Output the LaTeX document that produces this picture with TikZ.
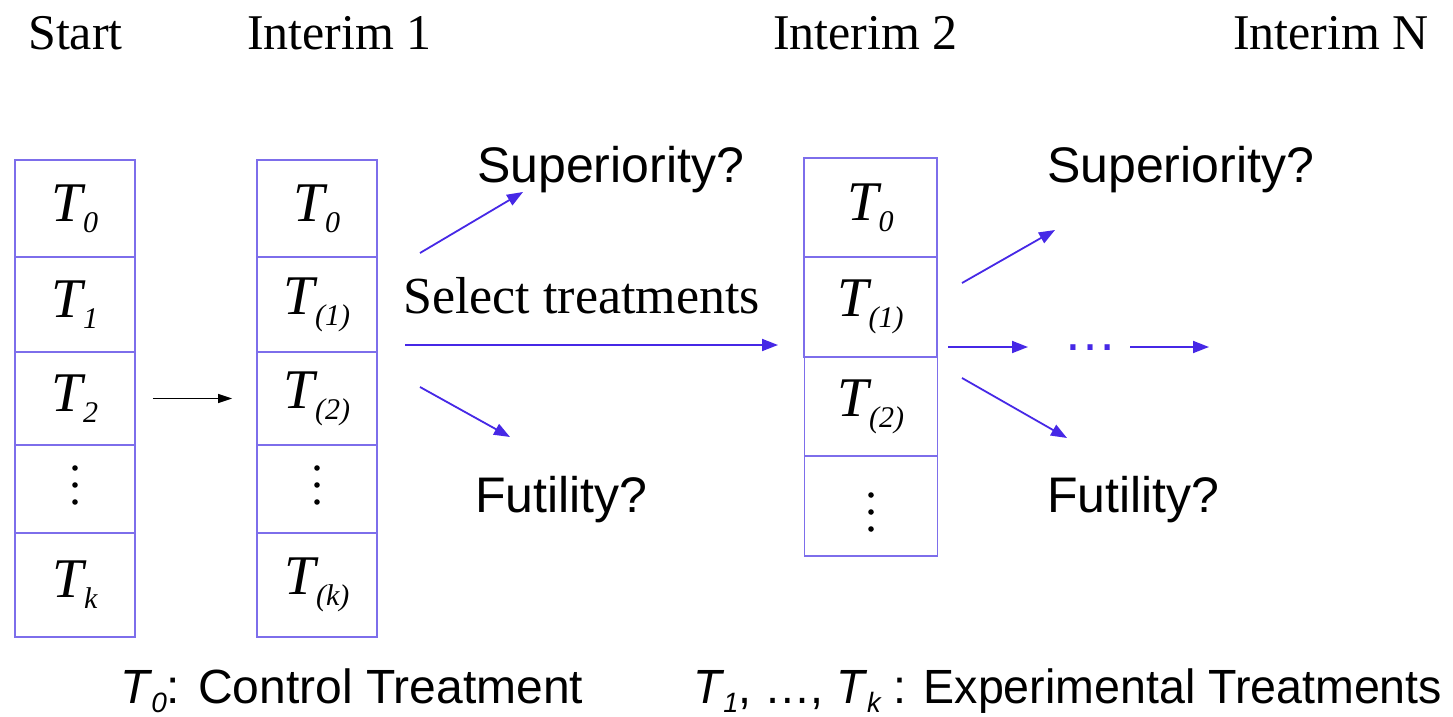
\documentclass[tikz,border=0pt]{standalone}
\usepackage{fontspec}
\setmainfont{Liberation Serif}
\newfontfamily\sansf{Liberation Sans}
\newfontfamily\sanscond[FakeStretch=0.97]{Liberation Sans}
\usetikzlibrary{arrows.meta}
\definecolor{boxblue}{RGB}{125,110,235}
\definecolor{arrblue}{RGB}{70,40,230}
\newcommand{\Tsub}[1]{\textit{T}\kern-3pt\raisebox{-11pt}{\fontsize{30}{30}\selectfont\itshape #1}}
\newcommand{\Tsb}[1]{\textit{T}\kern-1pt\raisebox{-9pt}{\fontsize{28}{28}\selectfont\itshape #1}}
\begin{document}
\begin{tikzpicture}[x=1pt,y=-1pt,
  cell/.style={draw=boxblue,line width=1.8pt,inner sep=0pt,font=\fontsize{56}{60}\selectfont},
  serlab/.style={anchor=base west,inner sep=0pt,font=\fontsize{50}{56}\selectfont},
  sanlab/.style={anchor=base west,inner sep=0pt,font=\sansf\fontsize{50}{56}\selectfont},
  botlab/.style={anchor=base west,inner sep=0pt,font=\sansf\fontsize{48}{52}\selectfont},
  barr/.style={-{Triangle[length=16pt,width=12pt]},line width=1.8pt,color=arrblue},
  karr/.style={-{Triangle[length=14pt,width=9pt]},line width=1.4pt,color=black},
  vdot/.style={fill=black},
]
\useasboundingbox (0,0) rectangle (1453,717);

% headings
\node[serlab] (hs) at (28,50) {Start};
\node[serlab] (h1) at (247,50) {Interim 1};
\node[serlab] (h2) at (773,50) {Interim 2};
\node[serlab] (hn) at (1233,50) {Interim N};

% column 1
\node[cell,minimum width=120,minimum height=97]  (a0) at (75,208.5) {\Tsub{0}};
\node[cell,minimum width=120,minimum height=95]  (a1) at (75,304.5) {\Tsub{1}};
\node[cell,minimum width=120,minimum height=93]  (a2) at (75,398.5) {\Tsub{2}};
\node[cell,minimum width=120,minimum height=88]  (a3) at (75,489) {};
\node[cell,minimum width=120,minimum height=104] (a4) at (75,585) {\Tsub{k}};

% column 2
\node[cell,minimum width=120,minimum height=97]  (b0) at (317,208.5) {\Tsub{0}};
\node[cell,minimum width=120,minimum height=95]  (b1) at (317,304.5) {\Tsub{(1)}};
\node[cell,minimum width=120,minimum height=93]  (b2) at (317,398.5) {\Tsub{(2)}};
\node[cell,minimum width=120,minimum height=88]  (b3) at (317,489) {};
\node[cell,minimum width=120,minimum height=104] (b4) at (317,585) {\Tsub{(k)}};

% column 3
\node[cell,minimum width=133,minimum height=99]  (c0) at (870.5,207.5) {\Tsub{0}};
\node[cell,minimum width=133,minimum height=100] (c1) at (870.5,307) {\Tsub{(1)}};
\node[cell,minimum width=133,minimum height=99]  (c2) at (871,406.5) {\Tsub{(2)}};
\node[cell,minimum width=133,minimum height=100] (c3) at (871,506) {};

% vertical dots
\foreach \n/\o in {a3/-4,b3/-4,c3/6}{
  \foreach \d in {-17,0,17}{
    \fill[vdot] ([yshift=-\o pt-\d pt]\n.center) circle (2.8);
  }
}

% black arrow
\draw[karr] ([xshift=17pt]a2.east) -- ([xshift=-24pt]b2.west);

% labels
\node[sanlab] (sup1) at (477,182) {Superiority?};
\node[sanlab] (fut1) at (475,512) {Futility?};
\node[serlab,font=\fontsize{52}{56}\selectfont] (sel) at (403,313) {Select treatments};
\node[sanlab] (sup2) at (1047,182) {Superiority?};
\node[sanlab] (fut2) at (1047,512) {Futility?};

% arrow end points
\coordinate (u1s) at (420,253); \coordinate (u1e) at (523,192);
\coordinate (l1s) at (420,387); \coordinate (l1e) at (510,437);
\coordinate (m1s) at (405,345); \coordinate (m1e) at (778,345);
\coordinate (u2s) at (962,283); \coordinate (u2e) at (1055,230);
\coordinate (l2s) at (962,378); \coordinate (l2e) at (1067,438);
\coordinate (m2s) at (948,347); \coordinate (m2e) at (1028,347);
\coordinate (m3s) at (1130,347); \coordinate (m3e) at (1209,347);

\draw[barr] (u1s) -- (u1e);
\draw[barr] (l1s) -- (l1e);
\draw[barr] (m1s) -- (m1e);
\draw[barr] (u2s) -- (u2e);
\draw[barr] (l2s) -- (l2e);
\draw[barr] (m2s) -- (m2e);
\node[anchor=base,inner sep=0pt,text=arrblue,font=\sansf\fontsize{54}{56}\selectfont] (dd) at (1090,350) {…};
\draw[barr] (m3s) -- (m3e);

% bottom legend
\node[botlab] (leg1) at (120,703) {\Tsb{0}: Control Treatment};
\node[botlab,font=\sanscond\fontsize{48}{52}\selectfont] (leg2) at (693,703) {\Tsb{1}, …, \Tsb{k} : Experimental Treatments};
\end{tikzpicture}
\end{document}
